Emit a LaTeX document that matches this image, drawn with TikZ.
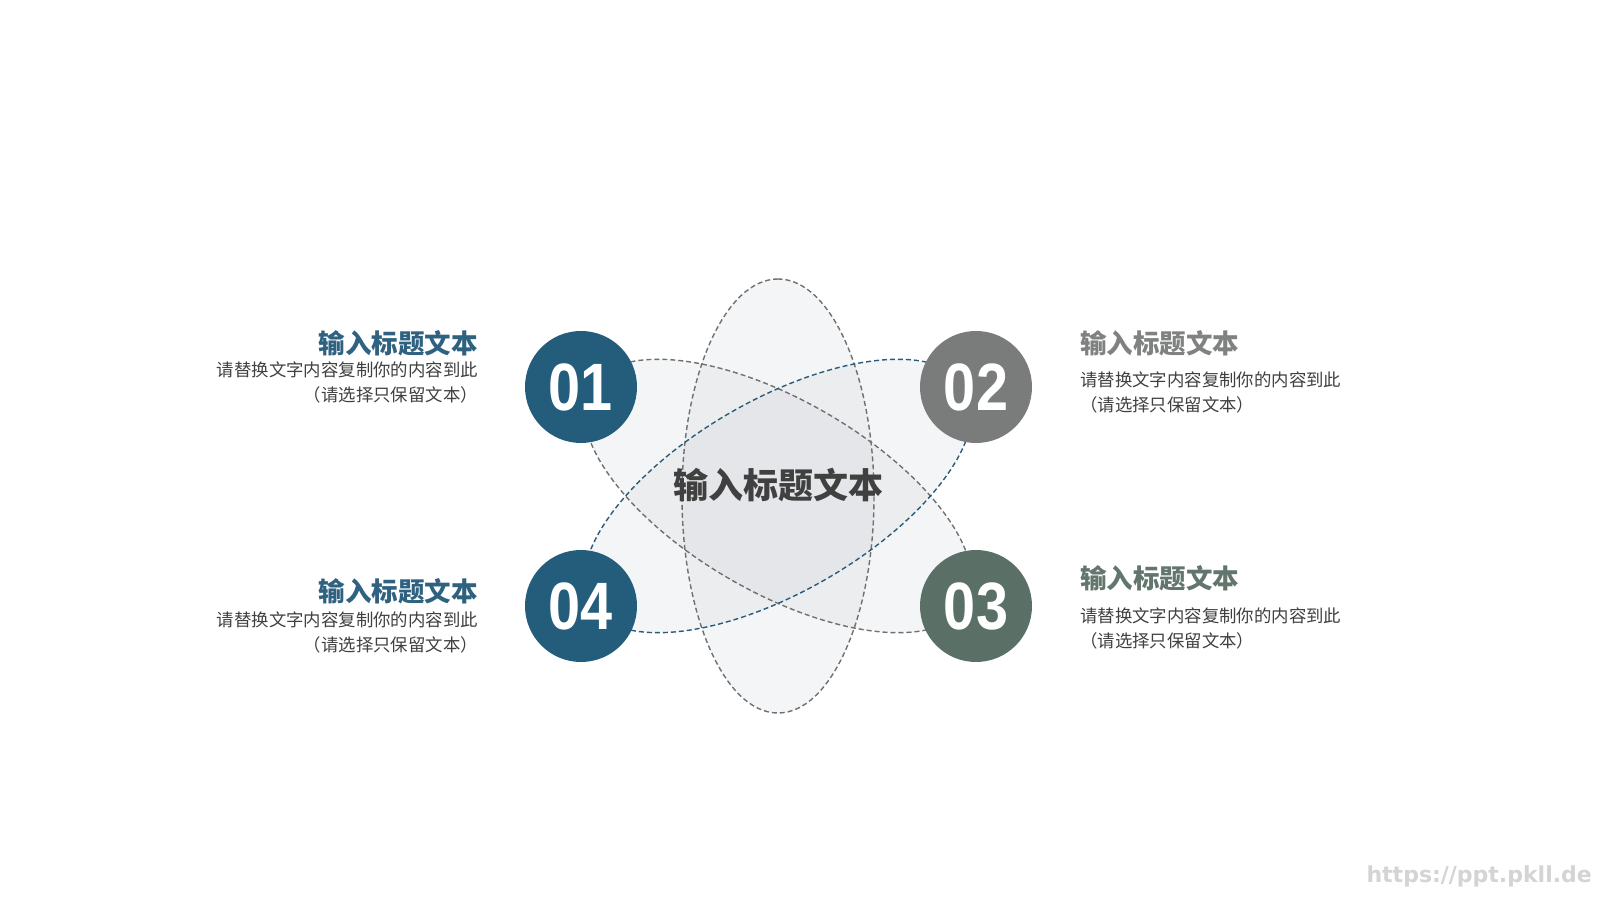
\documentclass[tikz,border=0pt]{standalone}
\usepackage{fontspec}
\setmainfont{Liberation Sans}
\newfontfamily\cjk{Noto Sans CJK SC}
\newfontfamily\numfont{Liberation Sans}[FakeStretch=0.86]
\newfontfamily\webfont{DejaVu Sans}
\usetikzlibrary{positioning}
\definecolor{bluecolor}{RGB}{36,93,124}
\definecolor{bluetitle}{RGB}{47,97,128}
\definecolor{greycolor}{RGB}{122,124,124}
\definecolor{greytitle}{RGB}{128,129,129}
\definecolor{greencolor}{RGB}{90,111,102}
\definecolor{greentitle}{RGB}{99,118,110}
\definecolor{bodycolor}{RGB}{64,64,64}
\definecolor{orbitgrey}{RGB}{112,112,112}
\definecolor{orbitblue}{RGB}{42,92,122}
\definecolor{orbitfill}{RGB}{200,206,212}
\definecolor{markcolor}{RGB}{212,212,212}

\begin{document}
\begin{tikzpicture}[x=1pt, y=1pt,
    orbitfill/.style={fill=orbitfill, fill opacity=0.2, draw=none},
    orbit/.style={dash pattern=on 5pt off 3pt, line width=1.4pt},
    numcirc/.style={circle, minimum size=112pt, inner sep=0pt, text=white, font=\fontsize{67}{67}\selectfont\numfont\bfseries},
    ttl/.style={inner sep=0pt, font=\fontsize{26.5}{30}\selectfont\cjk\bfseries},
    body/.style={inner sep=0pt, text=bodycolor, font=\fontsize{17.4}{25}\selectfont\cjk}
]

\useasboundingbox[fill=white] (0,0) rectangle (1600,900);

% Orbits
\coordinate (core) at (778,404);
\foreach \ang in {90,30,-30}
    \fill[orbitfill, rotate around={\ang:(core)}] (core) ellipse [x radius=217pt, y radius=96pt];
\draw[orbit, orbitgrey, rotate around={90:(core)}] (core) ellipse [x radius=217pt, y radius=96pt];
\draw[orbit, orbitgrey, rotate around={-30:(core)}] (core) ellipse [x radius=217pt, y radius=96pt];
\draw[orbit, orbitblue, rotate around={30:(core)}] (core) ellipse [x radius=217pt, y radius=96pt];

% Centre title
\node[font=\fontsize{35}{40}\selectfont\cjk\bfseries, text=bodycolor] (centre) at (778,415) {输入标题文本};

% Number circles
\node[numcirc, fill=bluecolor] (n01) at (581,513) {01};
\node[numcirc, fill=greycolor] (n02) at (976,513) {02};
\node[numcirc, fill=greencolor] (n03) at (976,294) {03};
\node[numcirc, fill=bluecolor] (n04) at (581,294) {04};

% Left texts
\node[ttl, text=bluetitle, anchor=east] (t01) at (478,557) {输入标题文本};
\node[body, align=right, anchor=east] (b01) at (478,517.5) {请替换文字内容复制你的内容到此\\（请选择只保留文本）};
\node[ttl, text=bluetitle, anchor=east] (t04) at (478,309) {输入标题文本};
\node[body, align=right, anchor=east] (b04) at (478,267.5) {请替换文字内容复制你的内容到此\\（请选择只保留文本）};

% Right texts
\node[ttl, text=greytitle, anchor=west] (t02) at (1080,557) {输入标题文本};
\node[body, align=left, anchor=west] (b02) at (1080,507.5) {请替换文字内容复制你的内容到此\\（请选择只保留文本）};
\node[ttl, text=greentitle, anchor=west] (t03) at (1080,322) {输入标题文本};
\node[body, align=left, anchor=west] (b03) at (1080,271.5) {请替换文字内容复制你的内容到此\\（请选择只保留文本）};

% Watermark
\node[anchor=east, inner sep=0pt, text=markcolor, font=\fontsize{22}{26}\selectfont\webfont\bfseries] (mark) at (1592,24) {https://ppt.pkll.de};

\end{tikzpicture}
\end{document}
